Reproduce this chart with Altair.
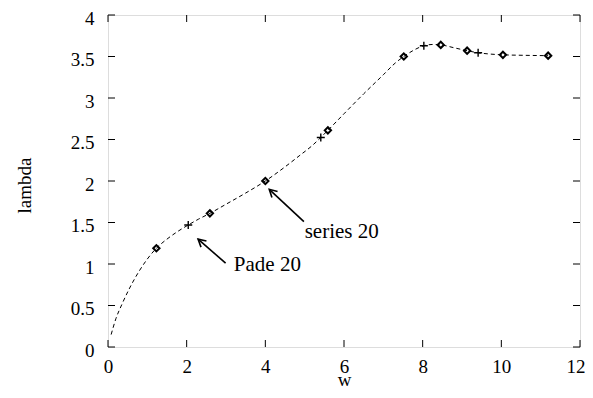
import math
import altair as alt
import pandas as pd

# curve (dashed)
curve_w = [0.08, 0.2, 0.35, 0.55, 0.8, 1.0, 1.23, 1.5, 1.75, 2.04, 2.3, 2.59, 3.0, 3.5,
           4.0, 4.5, 4.88, 5.2, 5.41, 5.59, 6.0, 6.5, 7.0, 7.3, 7.52, 7.75, 8.03, 8.25,
           8.46, 8.8, 9.13, 9.41, 9.7, 10.04, 10.5, 11.19]
curve_l = [0.15, 0.34, 0.51, 0.71, 0.92, 1.06, 1.19, 1.30, 1.385, 1.47, 1.54, 1.61, 1.72, 1.855,
           2.0, 2.17, 2.31, 2.43, 2.525, 2.61, 2.81, 3.05, 3.28, 3.42, 3.50, 3.57, 3.63, 3.645,
           3.64, 3.605, 3.57, 3.545, 3.53, 3.52, 3.515, 3.51]

# series 20 (diamonds)
series_w = [1.23, 2.59, 4.0, 5.59, 7.52, 8.46, 9.13, 10.04, 11.19]
series_l = [1.19, 1.61, 2.0, 2.61, 3.50, 3.64, 3.57, 3.52, 3.51]

# Pade 20 (plus)
pade_w = [2.04, 5.41, 8.03, 9.41]
pade_l = [1.47, 2.525, 3.63, 3.545]

# annotations
ann_text = ["series 20", "Pade 20"]
ann_tx = [5.0, 3.2]
ann_ty = [1.38, 0.99]
arrow_tail_w = [4.98, 2.99]
arrow_tail_l = [1.51, 1.01]
arrow_head_w = [4.10, 2.29]
arrow_head_l = [1.90, 1.30]

x_ticks = [0, 2, 4, 6, 8, 10, 12]
y_ticks = [0, 0.5, 1, 1.5, 2, 2.5, 3, 3.5, 4]

W, H = 472, 332
FONT = "Liberation Serif"
TL = 7

px_x = W / 12.0
px_y = H / 4.0
angles = []
for tw, tl, hw, hl in zip(arrow_tail_w, arrow_tail_l, arrow_head_w, arrow_head_l):
    dx = (hw - tw) * px_x
    dy = -(hl - tl) * px_y
    angles.append(math.degrees(math.atan2(dx, -dy)) % 360)

curve_df = pd.DataFrame({"w": curve_w, "l": curve_l})
series_df = pd.DataFrame({"w": series_w, "l": series_l})
pade_df = pd.DataFrame({"w": pade_w, "l": pade_l})
ann_df = pd.DataFrame({"text": ann_text, "w": ann_tx, "l": ann_ty})
arrow_df = pd.DataFrame({"tw": arrow_tail_w, "tl": arrow_tail_l,
                         "hw": arrow_head_w, "hl": arrow_head_l, "ang": angles})
xt_df = pd.DataFrame({"v": x_ticks})
yt_df = pd.DataFrame({"v": y_ticks})

xscale = alt.Scale(domain=[0, 12], nice=False, zero=False)
yscale = alt.Scale(domain=[0, 4], nice=False, zero=False)

xaxis = alt.Axis(values=x_ticks, format="~g", ticks=False, domain=False, grid=False,
                 labelPadding=10, labelFontSize=19, labelFont=FONT, labelColor="black",
                 labelAlign=alt.ExprRef(expr="datum.value == 12 ? 'right' : 'center'"),
                 labelOffset=alt.ExprRef(expr="datum.value == 12 ? 5 : 0"),
                 title="w", titleFont=FONT, titleFontSize=19, titleFontWeight="normal",
                 titleColor="black", titleX=236, titleY=38, titleBaseline="alphabetic",
                 titleAlign="center", labelFlush=False)
yaxis = alt.Axis(values=y_ticks, format="~g", ticks=False, domain=False, grid=False,
                 labelPadding=14, labelOffset=3,
                 labelFontSize=19, labelFont=FONT, labelColor="black",
                 title="lambda", titleFont=FONT, titleFontSize=19, titleFontWeight="normal",
                 titleColor="black", titleX=-84, titleY=170, titleBaseline="middle",
                 titleAlign="center", titleAngle=-90, labelFlush=False)

curve = alt.Chart(curve_df).mark_line(
    color="black", strokeWidth=1, strokeDash=[4, 3], interpolate="monotone"
).encode(
    x=alt.X("w:Q", scale=xscale, axis=xaxis),
    y=alt.Y("l:Q", scale=yscale, axis=yaxis),
)

diamonds = alt.Chart(series_df).mark_point(
    shape="diamond", size=40, filled=False, color="black", strokeWidth=2, opacity=1
).encode(x=alt.X("w:Q", scale=xscale), y=alt.Y("l:Q", scale=yscale))

pluses = alt.Chart(pade_df).mark_point(
    shape="M-1,0L1,0M0,-1L0,1", size=64, filled=False, color="black", strokeWidth=1.4, opacity=1
).encode(x=alt.X("w:Q", scale=xscale), y=alt.Y("l:Q", scale=yscale))

shafts = alt.Chart(arrow_df).mark_rule(color="black", strokeWidth=1.6).encode(
    x=alt.X("tw:Q", scale=xscale), y=alt.Y("tl:Q", scale=yscale),
    x2="hw:Q", y2="hl:Q",
)
heads = alt.Chart(arrow_df).mark_point(
    shape="M-0.55,1L0,0L0.55,1", size=225, filled=False, color="black", strokeWidth=1.6, opacity=1
).encode(
    x=alt.X("hw:Q", scale=xscale), y=alt.Y("hl:Q", scale=yscale),
    angle=alt.Angle("ang:Q", scale=None),
)

labels = alt.Chart(ann_df).mark_text(
    font=FONT, fontSize=21, align="left", baseline="middle", color="black"
).encode(x=alt.X("w:Q", scale=xscale), y=alt.Y("l:Q", scale=yscale), text="text:N")

xt_bottom = alt.Chart(xt_df).mark_rule(color="black", strokeWidth=1).encode(
    x=alt.X("v:Q", scale=xscale), y=alt.value(H), y2=alt.value(H - TL))
xt_top = alt.Chart(xt_df).mark_rule(color="black", strokeWidth=1).encode(
    x=alt.X("v:Q", scale=xscale), y=alt.value(0), y2=alt.value(TL))
yt_left = alt.Chart(yt_df).mark_rule(color="black", strokeWidth=1).encode(
    y=alt.Y("v:Q", scale=yscale), x=alt.value(0), x2=alt.value(TL))
yt_right = alt.Chart(yt_df).mark_rule(color="black", strokeWidth=1).encode(
    y=alt.Y("v:Q", scale=yscale), x=alt.value(W), x2=alt.value(W - TL))

chart = alt.layer(
    curve, xt_bottom, xt_top, yt_left, yt_right, shafts, heads, diamonds, pluses, labels
).properties(
    width=W, height=H,
    autosize=alt.AutoSizeParams(type="none"),
    padding={"left": 100, "top": 7, "right": 5, "bottom": 43},
).configure_view(
    stroke="black", strokeWidth=1.3
).configure(background="white")

chart.save("out.html", embed_options={"renderer": "svg", "actions": False})
